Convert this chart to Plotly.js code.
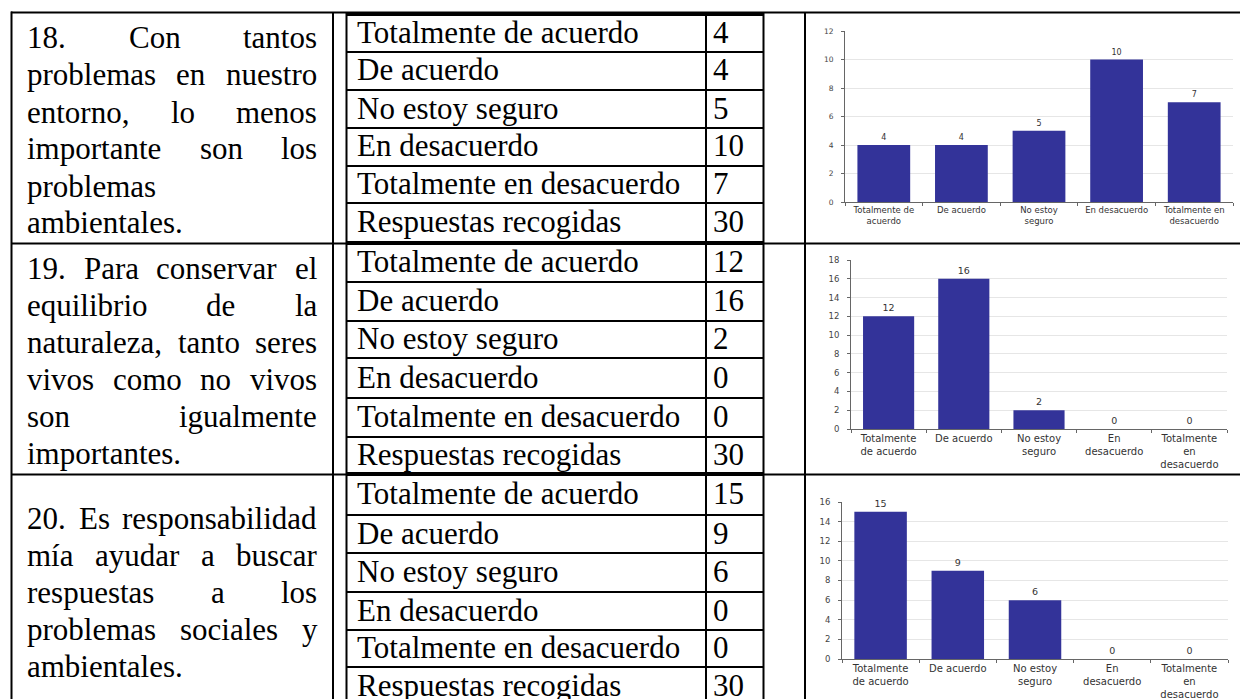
<!DOCTYPE html>
<html><head><meta charset="utf-8">
<script src="https://cdn.plot.ly/plotly-3.0.1.min.js"></script>
<style>html,body{margin:0;padding:0;background:#fff;}#chart{width:1251px;height:699px;}</style>
</head><body><div id="chart"></div>
<script>
// ---------------- DATA ----------------
const categories = ["Totalmente de acuerdo","De acuerdo","No estoy seguro","En desacuerdo","Totalmente en desacuerdo"];
const tableLabels = ["Totalmente de acuerdo","De acuerdo","No estoy seguro","En desacuerdo","Totalmente en desacuerdo","Respuestas recogidas"];
const values18 = [4,4,5,10,7];
const values19 = [12,16,2,0,0];
const values20 = [15,9,6,0,0];
const totals = [30,30,30];
const tickLabels18 = ["Totalmente de<br>acuerdo","De acuerdo","No estoy<br>seguro","En desacuerdo","Totalmente en<br>desacuerdo"];
const tickLabels19 = ["Totalmente<br>de acuerdo","De acuerdo","No estoy<br>seguro","En<br>desacuerdo","Totalmente<br>en<br>desacuerdo"];
const tickLabels20 = ["Totalmente<br>de acuerdo","De acuerdo","No estoy<br>seguro","En<br>desacuerdo","Totalmente<br>en<br>desacuerdo"];
const question18 = ["18. Con tantos","problemas en nuestro","entorno, lo menos","importante son los","problemas","ambientales."];
const question19 = ["19. Para conservar el","equilibrio de la","naturaleza, tanto seres","vivos como no vivos","son igualmente","importantes."];
const question20 = ["20. Es responsabilidad","mía ayudar a buscar","respuestas a los","problemas sociales y","ambientales."];

// ---------------- LAYOUT GEOMETRY (pixels) ----------------
const W = 1251, H = 699;
const px = x => x / W, py = y => 1 - y / H;
const SERIF = "Liberation Serif, Times New Roman, serif";
const SANS = "DejaVu Sans, Verdana, sans-serif";
const FS = 31;
const BAR = "#333399";

const blocks = [
  {values: values18, total: totals[0], ticks: tickLabels18, question: question18, qTop: 38, rowLines: [14,52,90,128,166,203,243], chart: {x0:845,x1:1233,yTop:31,yBot:202,ymax:12,fs:8.5,vfs:8,tfs:7.5}},
  {values: values19, total: totals[1], ticks: tickLabels19, question: question19, qTop: 268, rowLines: [243,282,321,358,398,437,474], chart: {x0:851,x1:1227,yTop:260,yBot:429,ymax:18,fs:10,vfs:9.5,tfs:8.5}},
  {values: values20, total: totals[2], ticks: tickLabels20, question: question20, qTop: 518, rowLines: [474,515,553,592,630,667,705], chart: {x0:842,x1:1228,yTop:502,yBot:659,ymax:16,fs:10,vfs:9.5,tfs:8.5}}
];
const LINE_SP = 37;

// text measuring for justified paragraph
const ctx = document.createElement("canvas").getContext("2d");
ctx.font = FS + "px 'Liberation Serif'";
const measure = s => ctx.measureText(s).width;

const shapes = [];
const annotations = [];
function hline(y, x0, x1, w) { shapes.push({type:"line", xref:"paper", yref:"paper", x0:px(x0), x1:px(x1), y0:py(y), y1:py(y), line:{color:"#000", width:w}}); }
function vline(x, y0, y1, w) { shapes.push({type:"line", xref:"paper", yref:"paper", x0:px(x), x1:px(x), y0:py(y0), y1:py(y1), line:{color:"#000", width:w}}); }
function txt(s, x, y, anchor, size, font) {
  annotations.push({text:s, x:px(x), y:py(y), xref:"paper", yref:"paper", xanchor:anchor||"left", yanchor:"middle",
    showarrow:false, borderpad:0, borderwidth:0, font:{family:font||SERIF, size:size||FS, color:"#000"}});
}

// outer grid
hline(12.5, 11, 1240, 2);
hline(243.5, 11, 1240, 2);
hline(474.5, 11, 1240, 2);
vline(11.5, 11.5, 699, 2);
vline(333, 12, 699, 2);
vline(346.5, 12, 699, 2);
vline(706, 12, 699, 2);
vline(763.5, 12, 699, 2);
vline(805, 12, 699, 2);

const traces = [];
const layout = {width:W, height:H, margin:{l:0,r:0,t:0,b:0}, showlegend:false, paper_bgcolor:"#fff", plot_bgcolor:"#fff", autosize:false, bargap:0.32};

blocks.forEach((b, i) => {
  // inner table lines
  b.rowLines.forEach((y, k) => {
    const thick = (k === 0 || k === b.rowLines.length - 1);
    hline(y, 346, 764, thick ? 4 : 2);
  });
  // inner table text
  const rows = tableLabels.map((lab, k) => ({lab, val: k < 5 ? b.values[k] : b.total}));
  rows.forEach((r, k) => {
    const yc = (b.rowLines[k] + b.rowLines[k+1]) / 2 - 1;
    txt(r.lab, 357, yc);
    txt(String(r.val), 713, yc);
  });
  // justified question text
  const L = 27, R = 317;
  b.question.forEach((line, k) => {
    const y = b.qTop + k * LINE_SP;
    const words = line.split(" ");
    const last = (k === b.question.length - 1);
    if (last || words.length === 1) { txt(line, L, y); return; }
    const widths = words.map(measure);
    const sum = widths.reduce((a, c) => a + c, 0);
    const gap = (R - L - sum) / (words.length - 1);
    let x = L;
    words.forEach((w, j) => { txt(w, x, y); x += widths[j] + gap; });
  });

  // chart
  const c = b.chart;
  const xa = "xaxis" + (i ? i + 1 : ""), ya = "yaxis" + (i ? i + 1 : "");
  traces.push({type:"bar", x:categories, y:b.values, xaxis:"x" + (i ? i + 1 : ""), yaxis:"y" + (i ? i + 1 : ""),
    marker:{color:BAR, line:{width:0}}, text:b.values.map(String), textposition:"outside", cliponaxis:false,
    textfont:{family:SANS, size:c.vfs, color:"#333"}, hoverinfo:"none"});
  layout[xa] = {domain:[px(c.x0), px(c.x1)], anchor:"y" + (i ? i + 1 : ""), type:"category", range:[-0.5, 4.5],
    tickmode:"array", tickvals:categories, ticktext:b.ticks, tickson:"boundaries", ticks:"outside", ticklen:3, tickcolor:"#666",
    showline:true, linecolor:"#666", linewidth:1, showgrid:false, tickangle:0,
    tickfont:{family:SANS, size:c.fs, color:"#333"}, fixedrange:true};
  layout[ya] = {domain:[py(c.yBot), py(c.yTop)], anchor:"x" + (i ? i + 1 : ""), range:[0, c.ymax], dtick:2,
    showgrid:true, gridcolor:"#e6e6e6", gridwidth:1, zeroline:false, showline:true, linecolor:"#666", linewidth:1,
    ticks:"outside", ticklen:3, tickcolor:"#666", ticklabelstandoff:6,
    tickfont:{family:SANS, size:c.tfs, color:"#444"}, fixedrange:true};
});

layout.shapes = shapes;
layout.annotations = annotations;
Plotly.newPlot("chart", traces, layout, {displayModeBar:false, staticPlot:true});
</script>
</body></html>
